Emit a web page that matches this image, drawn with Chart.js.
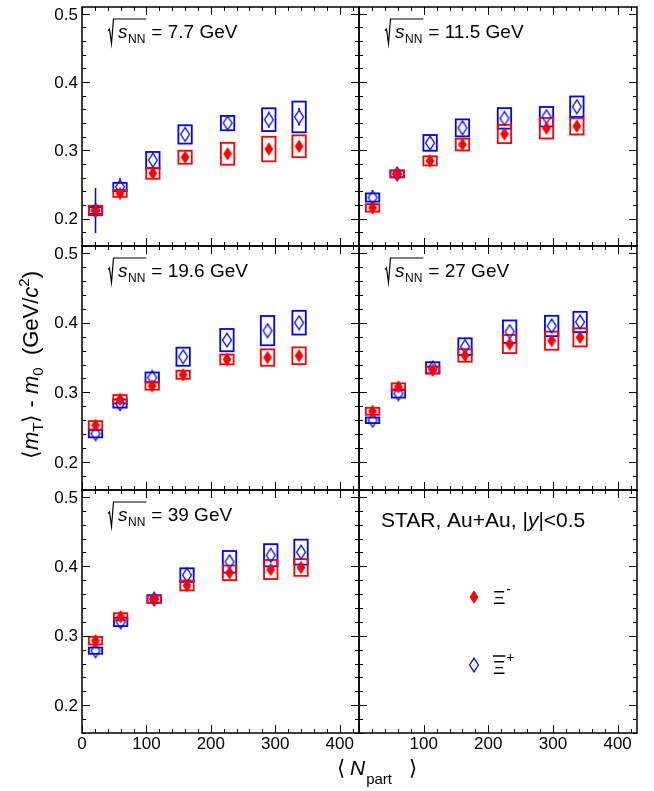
<!DOCTYPE html>
<html>
<head>
<meta charset="utf-8">
<script src="https://cdn.jsdelivr.net/npm/chart.js@4"></script>
<style>
  html, body { margin: 0; padding: 0; background: #fff; }
  #wrap { position: relative; width: 654px; height: 791px; }
  #wrap canvas { position: absolute; left: 0; top: 0; }
</style>
</head>
<body>
<div id="wrap"></div>
<script>
// axis ticks / ranges
const xTickLabels = ["0", "100", "200", "300", "400"];
const yTickLabels = ["0.2", "0.3", "0.4", "0.5"];
const xMin = 0, xMax = 430, yMin = 0.16, yMax = 0.51;

const energyLabels = ["7.7 GeV", "11.5 GeV", "19.6 GeV", "27 GeV", "39 GeV"];

// 7.7 GeV
const npart7p7 = [21, 59, 110, 160, 226, 290, 337];
const xiMinus7p7 = [0.212, 0.237, 0.2665, 0.290, 0.295, 0.302, 0.306];
const xiMinusStat7p7 = [0.008, 0.006, 0.006, 0.005, 0.005, 0.005, 0.005];
const xiMinusSys7p7 = [0.007, 0.005, 0.008, 0.0095, 0.016, 0.018, 0.016];
const xiPlus7p7 = [0.212, 0.2465, 0.2857, 0.3234, 0.340, 0.345, 0.349];
const xiPlusStat7p7 = [0.033, 0.013, 0.011, 0.010, 0.009, 0.012, 0.013];
const xiPlusSys7p7 = [0.005, 0.006, 0.012, 0.0134, 0.0105, 0.0167, 0.0225];

// 11.5 GeV
const npart11p5 = [21, 59, 110, 160, 225, 290, 337];
const xiMinus11p5 = [0.2158, 0.2656, 0.2847, 0.3086, 0.324, 0.3325, 0.3354];
const xiMinusStat11p5 = [0.006, 0.005, 0.006, 0.005, 0.005, 0.005, 0.005];
const xiMinusSys11p5 = [0.0055, 0.005, 0.0067, 0.0086, 0.0134, 0.015, 0.012];
const xiPlus11p5 = [0.231, 0.2656, 0.311, 0.333, 0.3469, 0.3493, 0.364];
const xiPlusStat11p5 = [0.011, 0.006, 0.007, 0.007, 0.007, 0.008, 0.008];
const xiPlusSys11p5 = [0.006, 0.005, 0.0115, 0.0124, 0.015, 0.0143, 0.015];

// 19.6 GeV
const npart19p6 = [21, 59, 109, 157, 225, 288, 337];
const xiMinus19p6 = [0.2528, 0.2902, 0.3094, 0.3253, 0.3473, 0.350, 0.3526];
const xiMinusStat19p6 = [0.006, 0.005, 0.005, 0.005, 0.005, 0.005, 0.005];
const xiMinusSys19p6 = [0.006, 0.006, 0.0055, 0.0058, 0.007, 0.0118, 0.012];
const xiPlus19p6 = [0.2408, 0.284, 0.3214, 0.3512, 0.375, 0.3886, 0.400];
const xiPlusStat19p6 = [0.007, 0.006, 0.006, 0.006, 0.006, 0.007, 0.007];
const xiPlusSys19p6 = [0.0053, 0.0058, 0.0072, 0.013, 0.016, 0.021, 0.017];

// 27 GeV
const npart27 = [21, 61, 114, 164, 233, 298, 342];
const xiMinus27 = [0.2729, 0.308, 0.332, 0.353, 0.3694, 0.3742, 0.379];
const xiMinusStat27 = [0.007, 0.006, 0.006, 0.005, 0.005, 0.005, 0.005];
const xiMinusSys27 = [0.005, 0.005, 0.005, 0.009, 0.013, 0.013, 0.013];
const xiPlus27 = [0.260, 0.2984, 0.3353, 0.3656, 0.3872, 0.3953, 0.401];
const xiPlusStat27 = [0.008, 0.007, 0.007, 0.006, 0.006, 0.006, 0.006];
const xiPlusSys27 = [0.004, 0.0058, 0.008, 0.012, 0.016, 0.0146, 0.0146];

// 39 GeV
const npart39 = [21, 60, 112, 163, 229, 293, 340];
const xiMinus39 = [0.293, 0.3275, 0.3529, 0.3725, 0.3907, 0.3955, 0.3984];
const xiMinusStat39 = [0.006, 0.006, 0.005, 0.005, 0.005, 0.005, 0.005];
const xiMinusSys39 = [0.0055, 0.005, 0.005, 0.007, 0.0105, 0.0137, 0.012];
const xiPlus39 = [0.2786, 0.320, 0.353, 0.3874, 0.4066, 0.416, 0.4205];
const xiPlusStat39 = [0.007, 0.007, 0.006, 0.006, 0.006, 0.006, 0.006];
const xiPlusSys39 = [0.0045, 0.006, 0.0055, 0.0098, 0.0155, 0.016, 0.018];

// page layout
const W = 654, H = 791;
const colEdges = [82, 359, 637];
const rowEdges = [2, 246, 490, 733];
const FONT = '"Liberation Sans", Arial, sans-serif';
const RED = "#ff0000", BLUE = "#0000ff";

const panels = [
  { row: 0, col: 0, label: energyLabels[0], npart: npart7p7, xiM: xiMinus7p7, xiMStat: xiMinusStat7p7, xiMSys: xiMinusSys7p7, xiP: xiPlus7p7, xiPStat: xiPlusStat7p7, xiPSys: xiPlusSys7p7 },
  { row: 0, col: 1, label: energyLabels[1], npart: npart11p5, xiM: xiMinus11p5, xiMStat: xiMinusStat11p5, xiMSys: xiMinusSys11p5, xiP: xiPlus11p5, xiPStat: xiPlusStat11p5, xiPSys: xiPlusSys11p5 },
  { row: 1, col: 0, label: energyLabels[2], npart: npart19p6, xiM: xiMinus19p6, xiMStat: xiMinusStat19p6, xiMSys: xiMinusSys19p6, xiP: xiPlus19p6, xiPStat: xiPlusStat19p6, xiPSys: xiPlusSys19p6 },
  { row: 1, col: 1, label: energyLabels[3], npart: npart27, xiM: xiMinus27, xiMStat: xiMinusStat27, xiMSys: xiMinusSys27, xiP: xiPlus27, xiPStat: xiPlusStat27, xiPSys: xiPlusSys27 },
  { row: 2, col: 0, label: energyLabels[4], npart: npart39, xiM: xiMinus39, xiMStat: xiMinusStat39, xiMSys: xiMinusSys39, xiP: xiPlus39, xiPStat: xiPlusStat39, xiPSys: xiPlusSys39 },
  { row: 2, col: 1, legend: true },
];

// diamond markers (ROOT style 33 / 27)
function diamond(filled, color) {
  const c = document.createElement("canvas");
  c.width = 12; c.height = 16;
  const g = c.getContext("2d");
  g.beginPath();
  g.moveTo(6, 1.2); g.lineTo(10.4, 8); g.lineTo(6, 14.8); g.lineTo(1.6, 8); g.closePath();
  if (filled) { g.fillStyle = color; g.fill(); }
  else { g.strokeStyle = color; g.lineWidth = 1.3; g.stroke(); }
  return c;
}
const redMarker = diamond(true, RED);
const blueMarker = diamond(false, BLUE);
const markerHalf = 6.8; // stat bars stop at the marker edge

function drawRuns(ctx, runs, x, y) {
  let cx = x;
  for (const r of runs) {
    ctx.font = r.font;
    ctx.fillText(r.t, cx, y + (r.dy || 0));
    cx += ctx.measureText(r.t).width;
  }
  return cx;
}
function runsWidth(ctx, runs) {
  let w = 0;
  for (const r of runs) { ctx.font = r.font; w += ctx.measureText(r.t).width; }
  return w;
}

// sqrt(s_NN) = ... annotation
function drawEnergy(ctx, x0, b, text) {
  ctx.fillStyle = "#000";
  ctx.textAlign = "left";
  ctx.textBaseline = "alphabetic";
  ctx.font = "italic 19px " + FONT;
  ctx.fillText("s", x0 + 10, b);
  const sw = ctx.measureText("s").width;
  ctx.font = "12px " + FONT;
  ctx.fillText("NN", x0 + 10 + sw + 0.5, b + 5);
  const end = x0 + 10 + sw + 0.5 + ctx.measureText("NN").width + 1;
  ctx.beginPath();
  ctx.moveTo(x0, b - 7);
  ctx.lineTo(x0 + 1.5, b - 8.5);
  ctx.lineTo(x0 + 3.5, b + 6);
  ctx.lineTo(x0 + 5.5, b - 18.5);
  ctx.lineTo(end, b - 18.5);
  ctx.strokeStyle = "#000";
  ctx.lineWidth = 1.2;
  ctx.stroke();
  ctx.font = "19px " + FONT;
  ctx.fillText("= " + text, end + 5, b);
}

function drawTitles(ctx) {
  ctx.save();
  ctx.fillStyle = "#000";
  ctx.textAlign = "left";
  ctx.textBaseline = "alphabetic";
  // y title
  const n = "22px " + FONT, it = "italic 22px " + FONT, sm = "15px " + FONT;
  const yRuns = [
    { t: "\u27E8", font: n }, { t: "m", font: it }, { t: "T", font: sm, dy: 5 },
    { t: "\u27E9", font: n }, { t: " - ", font: n }, { t: "m", font: it },
    { t: "0", font: sm, dy: 5 }, { t: "  (GeV/", font: n }, { t: "c", font: it },
    { t: "2", font: sm, dy: -9 }, { t: ")", font: n },
  ];
  ctx.translate(38, 365);
  ctx.rotate(-Math.PI / 2);
  drawRuns(ctx, yRuns, -runsWidth(ctx, yRuns) / 2, 0);
  ctx.restore();

  // x title
  ctx.save();
  ctx.fillStyle = "#000";
  ctx.font = "21px " + FONT;
  ctx.fillText("\u27E8", 337, 775);
  ctx.font = "italic 21px " + FONT;
  ctx.fillText("N", 350, 775);
  const nw = ctx.measureText("N").width;
  ctx.font = "15px " + FONT;
  ctx.fillText("part", 350 + nw + 1, 784);
  ctx.font = "21px " + FONT;
  ctx.fillText("\u27E9", 409, 775);
  ctx.restore();
}

function drawLegend(ctx, left, top) {
  ctx.save();
  ctx.fillStyle = "#000";
  ctx.textAlign = "left";
  ctx.textBaseline = "alphabetic";
  const n = "21px " + FONT;
  drawRuns(ctx, [
    { t: "STAR, Au+Au, |", font: n }, { t: "y", font: "italic 21px " + FONT }, { t: "|<0.5", font: n },
  ], left + 22, top + 37);

  ctx.drawImage(redMarker, left + 115 - 6, top + 107 - 8);
  ctx.drawImage(blueMarker, left + 115 - 6, top + 175 - 8);

  ctx.font = "19px " + FONT;
  ctx.fillText("\u039E", left + 134, top + 114);
  const xw = ctx.measureText("\u039E").width;
  ctx.fillText("\u039E", left + 134, top + 184);
  ctx.beginPath();
  ctx.moveTo(left + 134, top + 166);
  ctx.lineTo(left + 134 + xw, top + 166);
  ctx.lineWidth = 1.5;
  ctx.strokeStyle = "#000";
  ctx.stroke();
  ctx.font = "14px " + FONT;
  ctx.fillText("-", left + 134 + xw + 1, top + 104);
  ctx.fillText("+", left + 134 + xw + 1, top + 172);
  ctx.restore();
}

function makePanelPlugin(p, index) {
  return {
    id: "panel" + index,
    beforeDatasetsDraw(chart) {
      if (p.legend) return;
      const ctx = chart.ctx;
      const xs = chart.scales.x, ys = chart.scales.y;
      const sets = [
        { v: p.xiP, stat: p.xiPStat, sys: p.xiPSys, color: BLUE },
        { v: p.xiM, stat: p.xiMStat, sys: p.xiMSys, color: RED },
      ];
      ctx.save();
      for (const s of sets) {
        // systematic boxes
        ctx.strokeStyle = s.color;
        ctx.lineWidth = 1.8;
        for (let i = 0; i < p.npart.length; i++) {
          const px = xs.getPixelForValue(p.npart[i]);
          const y1 = ys.getPixelForValue(s.v[i] + s.sys[i]);
          const y2 = ys.getPixelForValue(s.v[i] - s.sys[i]);
          ctx.strokeRect(px - 6.7, y1, 13.4, y2 - y1);
        }
      }
      for (const s of sets) {
        // statistical error bars, outside the marker only
        ctx.strokeStyle = s.color;
        ctx.lineWidth = 1.5;
        for (let i = 0; i < p.npart.length; i++) {
          const px = xs.getPixelForValue(p.npart[i]);
          const pc = ys.getPixelForValue(s.v[i]);
          const pt = ys.getPixelForValue(s.v[i] + s.stat[i]);
          const pb = ys.getPixelForValue(s.v[i] - s.stat[i]);
          ctx.beginPath();
          if (pt < pc - markerHalf) { ctx.moveTo(px, pt); ctx.lineTo(px, pc - markerHalf); }
          if (pb > pc + markerHalf) { ctx.moveTo(px, pc + markerHalf); ctx.lineTo(px, pb); }
          ctx.stroke();
        }
      }
      ctx.restore();
    },
    afterDraw(chart) {
      const ctx = chart.ctx;
      const { left, right, top, bottom } = chart.chartArea;
      const xs = chart.scales.x, ys = chart.scales.y;
      ctx.save();
      ctx.strokeStyle = "#000";
      ctx.lineWidth = 1;
      ctx.beginPath();
      // x ticks every 20, major every 100 (bottom + top, inward)
      for (let k = 0; k * 20 <= xMax; k++) {
        const px = Math.round(xs.getPixelForValue(k * 20)) + 0.5;
        const len = k % 5 === 0 ? 8 : 4;
        ctx.moveTo(px, bottom); ctx.lineTo(px, bottom - len);
        ctx.moveTo(px, top); ctx.lineTo(px, top + len);
      }
      // y ticks every 0.02, major every 0.1 (left + right, inward)
      for (let k = 8; k <= 25; k++) {
        const py = Math.round(ys.getPixelForValue(k * 0.02)) + 0.5;
        const len = k % 5 === 0 ? 8 : 4;
        ctx.moveTo(left, py); ctx.lineTo(left + len, py);
        ctx.moveTo(right, py); ctx.lineTo(right - len, py);
      }
      ctx.stroke();
      ctx.lineWidth = 1.5;
      ctx.strokeRect(left, top, right - left, bottom - top);

      ctx.fillStyle = "#000";
      ctx.font = "17px " + FONT;
      if (p.col === 0) {
        ctx.textAlign = "right";
        ctx.textBaseline = "middle";
        for (const lab of yTickLabels) {
          ctx.fillText(lab, left - 4, ys.getPixelForValue(Number(lab)) + 1);
        }
      }
      if (p.row === 2) {
        ctx.textAlign = "center";
        ctx.textBaseline = "alphabetic";
        for (const lab of xTickLabels) {
          if (p.col === 1 && lab === "0") continue;
          ctx.fillText(lab, xs.getPixelForValue(Number(lab)), 749);
        }
      }
      ctx.restore();

      if (p.legend) drawLegend(ctx, left, top);
      else drawEnergy(ctx, left + 26, top + 30.5, p.label);
      if (index === 0) drawTitles(ctx);
    },
  };
}

const wrap = document.getElementById("wrap");
panels.forEach((p, index) => {
  const canvas = document.createElement("canvas");
  canvas.width = W;
  canvas.height = H;
  canvas.style.width = W + "px";
  canvas.style.height = H + "px";
  wrap.appendChild(canvas);

  const datasets = p.legend ? [] : [
    {
      label: "\u039E-",
      data: p.npart.map((x, i) => ({ x: x, y: p.xiM[i] })),
      pointStyle: redMarker,
      pointRadius: 6,
    },
    {
      label: "anti-\u039E+",
      data: p.npart.map((x, i) => ({ x: x, y: p.xiP[i] })),
      pointStyle: blueMarker,
      pointRadius: 6,
    },
  ];

  new Chart(canvas.getContext("2d"), {
    type: "scatter",
    data: { datasets: datasets },
    options: {
      responsive: false,
      animation: false,
      events: [],
      layout: {
        padding: {
          left: colEdges[p.col],
          right: W - colEdges[p.col + 1],
          top: rowEdges[p.row],
          bottom: H - rowEdges[p.row + 1],
        },
      },
      plugins: {
        legend: { display: false },
        tooltip: { enabled: false },
      },
      scales: {
        x: { type: "linear", min: xMin, max: xMax, display: false },
        y: { type: "linear", min: yMin, max: yMax, display: false },
      },
    },
    plugins: [makePanelPlugin(p, index)],
  });
});
</script>
</body>
</html>
